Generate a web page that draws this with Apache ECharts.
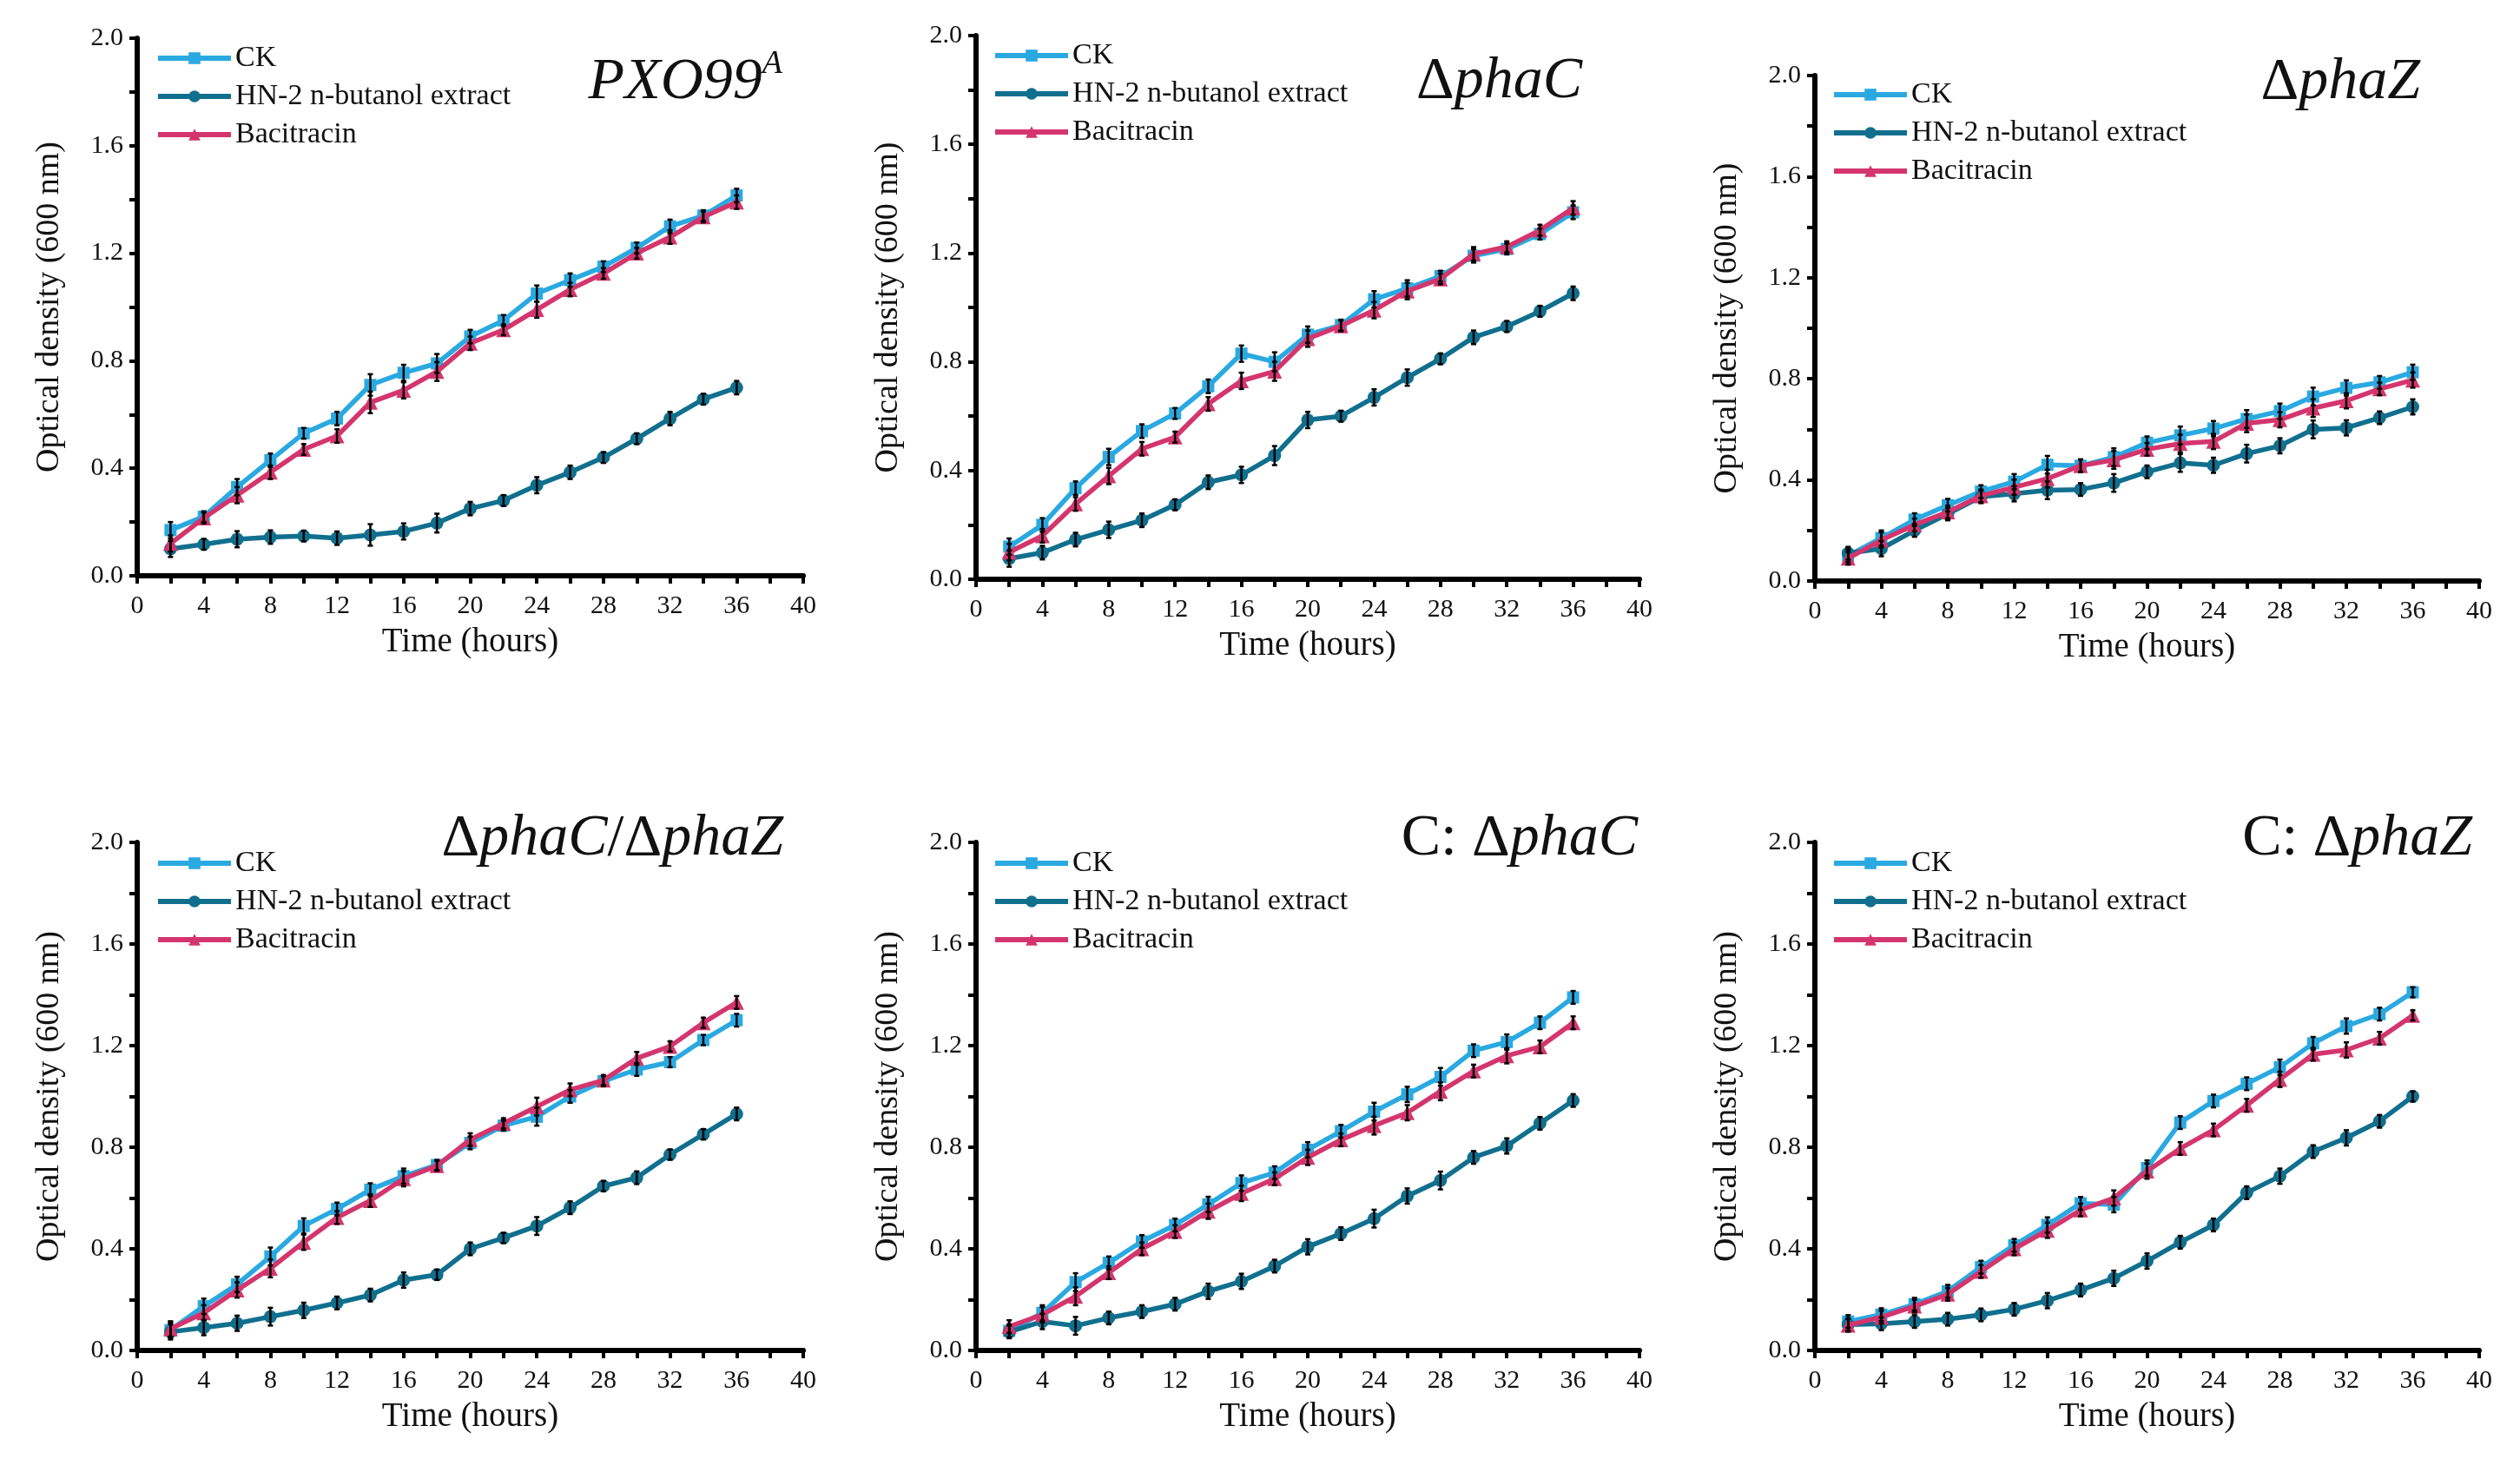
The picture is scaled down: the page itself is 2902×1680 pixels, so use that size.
<!DOCTYPE html>
<html><head><meta charset="utf-8">
<script src="https://cdn.jsdelivr.net/npm/echarts@6/dist/echarts.min.js"></script>
<style>html,body{margin:0;padding:0;background:#fff}#c{width:2902px;height:1680px}</style>
</head><body><div id="c"></div>
<script>
// ---------- data ----------
const HOURS = [2,4,6,8,10,12,14,16,18,20,22,24,26,28,30,32,34,36];
const SERIES_NAMES = ['CK', 'HN-2 n-butanol extract', 'Bacitracin'];
const X_NAME = 'Time (hours)';
const Y_NAME = 'Optical density (600 nm)';

// PXO99A
const PXO_CK  = [0.17,0.22,0.33,0.43,0.53,0.585,0.71,0.755,0.79,0.89,0.95,1.05,1.10,1.15,1.22,1.30,1.34,1.415];
const PXO_HN2 = [0.10,0.117,0.136,0.144,0.148,0.14,0.152,0.165,0.196,0.25,0.28,0.337,0.385,0.44,0.51,0.585,0.657,0.70];
const PXO_BAC = [0.12,0.215,0.30,0.385,0.47,0.52,0.645,0.69,0.76,0.865,0.915,0.99,1.065,1.125,1.20,1.26,1.335,1.39];
const PXO_ERR = [0.03,0.02,0.03,0.025,0.02,0.025,0.04,0.03,0.035,0.025,0.02,0.03,0.025,0.02,0.02,0.025,0.02,0.025];

// ΔphaC
const PHAC_CK  = [0.12,0.20,0.335,0.45,0.545,0.61,0.71,0.83,0.80,0.90,0.935,1.03,1.07,1.115,1.19,1.215,1.27,1.35];
const PHAC_HN2 = [0.076,0.098,0.146,0.182,0.217,0.274,0.357,0.384,0.455,0.586,0.60,0.669,0.742,0.811,0.89,0.93,0.986,1.052];
const PHAC_BAC = [0.10,0.16,0.277,0.38,0.48,0.523,0.645,0.73,0.765,0.885,0.932,0.99,1.06,1.105,1.197,1.223,1.284,1.366];
const PHAC_ERR = [0.03,0.025,0.025,0.03,0.025,0.02,0.025,0.03,0.035,0.03,0.02,0.03,0.03,0.02,0.025,0.02,0.02,0.025];

// ΔphaZ
const PHAZ_CK  = [0.10,0.17,0.243,0.30,0.354,0.393,0.46,0.456,0.49,0.547,0.576,0.603,0.641,0.672,0.73,0.764,0.786,0.826];
const PHAZ_HN2 = [0.11,0.128,0.20,0.265,0.333,0.345,0.359,0.362,0.388,0.432,0.467,0.458,0.504,0.535,0.60,0.606,0.646,0.689];
const PHAZ_BAC = [0.09,0.162,0.222,0.273,0.337,0.371,0.405,0.456,0.479,0.521,0.544,0.552,0.624,0.638,0.684,0.713,0.76,0.795];
const PHAZ_ERR = [0.025,0.03,0.025,0.025,0.025,0.03,0.035,0.025,0.035,0.025,0.035,0.03,0.035,0.03,0.035,0.03,0.025,0.03];

// ΔphaC/ΔphaZ
const DBL_CK  = [0.08,0.174,0.26,0.37,0.49,0.557,0.633,0.686,0.73,0.817,0.885,0.92,1.0,1.06,1.106,1.135,1.222,1.30];
const DBL_HN2 = [0.073,0.09,0.107,0.133,0.158,0.187,0.218,0.277,0.298,0.40,0.443,0.49,0.562,0.647,0.68,0.771,0.851,0.931];
const DBL_BAC = [0.085,0.148,0.238,0.323,0.426,0.523,0.59,0.676,0.727,0.83,0.894,0.96,1.026,1.064,1.15,1.197,1.29,1.37];
const DBL_ERR = [0.03,0.03,0.03,0.035,0.03,0.025,0.025,0.03,0.02,0.025,0.02,0.035,0.025,0.02,0.025,0.02,0.02,0.025];

// C: ΔphaC
const CPHAC_CK  = [0.077,0.148,0.269,0.345,0.429,0.494,0.575,0.659,0.70,0.79,0.863,0.94,1.008,1.077,1.18,1.214,1.29,1.39];
const CPHAC_HN2 = [0.073,0.114,0.097,0.128,0.153,0.182,0.233,0.272,0.332,0.408,0.46,0.519,0.608,0.669,0.76,0.805,0.894,0.984];
const CPHAC_BAC = [0.094,0.141,0.213,0.306,0.40,0.468,0.548,0.618,0.676,0.76,0.829,0.885,0.936,1.02,1.10,1.16,1.195,1.29];
const CPHAC_ERR = [0.025,0.03,0.035,0.025,0.025,0.025,0.03,0.03,0.025,0.03,0.025,0.035,0.03,0.035,0.025,0.03,0.025,0.025];

// C: ΔphaZ
const CPHAZ_CK  = [0.114,0.141,0.182,0.233,0.328,0.414,0.494,0.579,0.574,0.718,0.897,0.982,1.05,1.115,1.209,1.277,1.324,1.41];
const CPHAZ_HN2 = [0.102,0.105,0.114,0.123,0.14,0.162,0.196,0.238,0.284,0.352,0.426,0.494,0.621,0.686,0.783,0.837,0.902,1.0];
const CPHAZ_BAC = [0.099,0.131,0.174,0.221,0.311,0.40,0.473,0.553,0.60,0.706,0.795,0.868,0.965,1.067,1.166,1.183,1.229,1.319];
const CPHAZ_ERR = [0.025,0.025,0.025,0.025,0.025,0.025,0.03,0.025,0.03,0.03,0.025,0.025,0.025,0.03,0.025,0.03,0.025,0.02];

// panel titles (rich text markup: n = upright, i = italic, s = italic superscript)
const TITLES = [
  '{i|PXO99}{s|A}',
  '{n|Δ}{i|phaC}',
  '{n|Δ}{i|phaZ}',
  '{n|Δ}{i|phaC}{n|/Δ}{i|phaZ}',
  '{n|C: Δ}{i|phaC}',
  '{n|C: Δ}{i|phaZ}'
];

const PANEL_DATA = [
  [PXO_CK, PXO_HN2, PXO_BAC, PXO_ERR],
  [PHAC_CK, PHAC_HN2, PHAC_BAC, PHAC_ERR],
  [PHAZ_CK, PHAZ_HN2, PHAZ_BAC, PHAZ_ERR],
  [DBL_CK, DBL_HN2, DBL_BAC, DBL_ERR],
  [CPHAC_CK, CPHAC_HN2, CPHAC_BAC, CPHAC_ERR],
  [CPHAZ_CK, CPHAZ_HN2, CPHAZ_BAC, CPHAZ_ERR]
];

// ---------- layout & style ----------
const FONT = 'Liberation Serif';
const COLORS = ['#2AA9E1', '#116F8E', '#D4356D'];
const SYMBOLS = ['rect', 'circle', 'triangle'];
const SYMBOL_SIZES = [14, 15, 17];

const GRIDS = [
  {left: 158,  top: 44,  width: 767, height: 619},
  {left: 1124, top: 41,  width: 764, height: 626},
  {left: 2090, top: 87,  width: 765, height: 582},
  {left: 158,  top: 970, width: 767, height: 585},
  {left: 1124, top: 970, width: 764, height: 585},
  {left: 2090, top: 970, width: 765, height: 585}
];
const LEGEND_POS = [
  {left: 174,  top: 45},
  {left: 1138, top: 42},
  {left: 2104, top: 87},
  {left: 174,  top: 972},
  {left: 1138, top: 972},
  {left: 2104, top: 972}
];
const TITLE_POS = [
  {x: 901,  y: 95},
  {x: 1822, y: 94},
  {x: 2787, y: 95},
  {x: 902,  y: 966},
  {x: 1886, y: 966},
  {x: 2847, y: 966}
];

const axisLine = {show: true, onZero: false, lineStyle: {color: '#000', width: 6}};
const tick = {show: true, inside: false, length: 9, lineStyle: {color: '#000', width: 4}};
const minor = {show: true, splitNumber: 2, length: 9, lineStyle: {color: '#000', width: 4}};

const grid = [], xAxis = [], yAxis = [], legend = [], series = [], graphic = [];

GRIDS.forEach((g, i) => {
  grid.push(Object.assign({containLabel: false}, g));
  xAxis.push({
    gridIndex: i, type: 'value', min: 0, max: 40, interval: 4,
    axisLine, axisTick: tick, minorTick: minor, splitLine: {show: false}, minorSplitLine: {show: false},
    axisLabel: {fontFamily: FONT, fontSize: 30, color: '#111', margin: 20},
    name: X_NAME, nameLocation: 'middle', nameGap: 57,
    nameTextStyle: {fontFamily: FONT, fontSize: 39, color: '#111'}
  });
  yAxis.push({
    gridIndex: i, type: 'value', min: 0, max: 2, interval: 0.4,
    axisLine, axisTick: tick, minorTick: minor, splitLine: {show: false}, minorSplitLine: {show: false},
    axisLabel: {fontFamily: FONT, fontSize: 30, color: '#111', margin: 16, formatter: v => v.toFixed(1)},
    name: Y_NAME, nameLocation: 'middle', nameGap: 82, nameRotate: 90,
    nameTextStyle: {fontFamily: FONT, fontSize: 38, color: '#111'}
  });
  legend.push({
    data: SERIES_NAMES,
    lineStyle: {width: 6},
    orient: 'vertical', left: LEGEND_POS[i].left, top: LEGEND_POS[i].top,
    itemWidth: 84, itemHeight: 17, itemGap: 10, selectedMode: false,
    textStyle: {fontFamily: FONT, fontSize: 34, color: '#111'}
  });
  const pd = PANEL_DATA[i];
  const err = pd[3];
  for (let s = 0; s < 3; s++) {
    const vals = pd[s];
    series.push({
      type: 'line', name: SERIES_NAMES[s], xAxisIndex: i, yAxisIndex: i,
      data: HOURS.map((h, k) => [h, vals[k]]),
      symbol: SYMBOLS[s], symbolSize: SYMBOL_SIZES[s], showSymbol: true,
      lineStyle: {color: COLORS[s], width: 5.5},
      itemStyle: {color: COLORS[s]},
      z: 2 + s, animation: false
    });
  }
  for (let s = 0; s < 3; s++) {
    const vals = pd[s];
    series.push({
      type: 'custom', xAxisIndex: i, yAxisIndex: i, z: 10, silent: true, animation: false,
      data: HOURS.map((h, k) => [h, vals[k], err[k]]),
      renderItem: (params, api) => {
        const x = api.value(0), y = api.value(1), e = api.value(2);
        const lo = api.coord([x, y - e]), hi = api.coord([x, y + e]);
        const cw = 3;
        const st = {stroke: '#000', lineWidth: 2.5};
        return {type: 'group', children: [
          {type: 'line', shape: {x1: lo[0], y1: lo[1], x2: hi[0], y2: hi[1]}, style: st},
          {type: 'line', shape: {x1: lo[0] - cw, y1: lo[1], x2: lo[0] + cw, y2: lo[1]}, style: st},
          {type: 'line', shape: {x1: hi[0] - cw, y1: hi[1], x2: hi[0] + cw, y2: hi[1]}, style: st}
        ]};
      }
    });
  }
  graphic.push({
    type: 'text', x: TITLE_POS[i].x, y: TITLE_POS[i].y, z: 20,
    style: {
      text: TITLES[i], align: 'right', verticalAlign: 'middle', fill: '#111',
      rich: {
        n: {fontFamily: FONT, fontSize: 68, lineHeight: 80, fill: '#111'},
        i: {fontFamily: FONT, fontSize: 68, lineHeight: 80, fontStyle: 'italic', fill: '#111'},
        s: {fontFamily: FONT, fontSize: 38, lineHeight: 58, fontStyle: 'italic', verticalAlign: 'top', fill: '#111'}
      }
    }
  });
});

const chart = echarts.init(document.getElementById('c'), null, {renderer: 'canvas'});
chart.setOption({
  backgroundColor: '#fff', animation: false,
  grid, xAxis, yAxis, legend, series, graphic
});
</script>
</body></html>
